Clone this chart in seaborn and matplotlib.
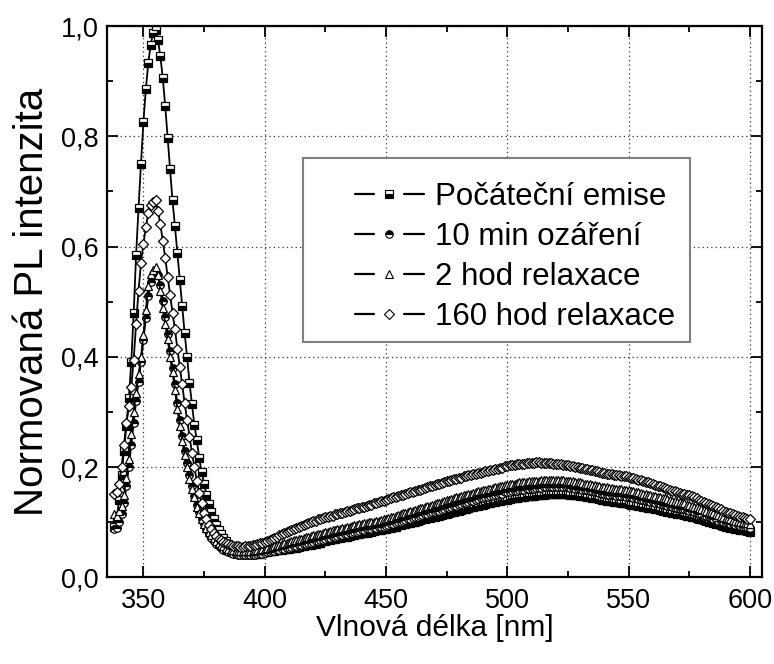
import numpy as np
import pandas as pd
import seaborn as sns
import matplotlib
matplotlib.use("Agg")
import matplotlib.pyplot as plt
from matplotlib.lines import Line2D
from matplotlib.patches import Rectangle
from matplotlib.legend_handler import HandlerBase
from matplotlib.ticker import MultipleLocator

# ---------------- data ----------------
# sampling grid of the spectra: 338 ... 600 nm, 1 nm step
wavelength = np.arange(338, 601)

labels = ["Počáteční emise", "10 min ozáření", "2 hod relaxace", "160 hod relaxace"]

pocatecni = [
    0.092, 0.108, 0.140, 0.185, 0.230, 0.275, 0.325, 0.390, 0.480, 0.585,
    0.670, 0.750, 0.825, 0.885, 0.932, 0.966, 0.988, 0.992, 0.975, 0.945,
    0.905, 0.855, 0.797, 0.740, 0.684, 0.637, 0.589, 0.540, 0.492, 0.443,
    0.400, 0.353, 0.315, 0.277, 0.249, 0.217, 0.191, 0.170, 0.149, 0.133,
    0.118, 0.106, 0.095, 0.086, 0.078, 0.071, 0.065, 0.060, 0.056, 0.052,
    0.049, 0.047, 0.045, 0.044, 0.043, 0.042, 0.042, 0.042, 0.042, 0.043,
    0.043, 0.044, 0.045,
    0.046, 0.047, 0.047, 0.048, 0.049, 0.049, 0.050, 0.051, 0.051, 0.052,
    0.053, 0.054, 0.054, 0.055, 0.056, 0.057, 0.058, 0.058, 0.059, 0.060,
    0.061, 0.062, 0.063, 0.065, 0.066, 0.067, 0.068, 0.069, 0.070, 0.071,
    0.072, 0.073, 0.073, 0.074, 0.075, 0.076, 0.077, 0.078, 0.079, 0.080,
    0.081, 0.081, 0.082, 0.083, 0.084, 0.085, 0.086, 0.086, 0.087, 0.088,
    0.089, 0.090, 0.091, 0.092, 0.094, 0.095, 0.096, 0.097, 0.098, 0.099,
    0.100, 0.101, 0.103, 0.104, 0.105, 0.106, 0.107, 0.108, 0.109, 0.110,
    0.111, 0.112, 0.113, 0.114, 0.115, 0.117, 0.118, 0.119, 0.120, 0.121,
    0.122, 0.123, 0.124, 0.126, 0.127, 0.128, 0.129, 0.130, 0.131, 0.132,
    0.133, 0.134, 0.135, 0.136, 0.137, 0.138, 0.139, 0.140, 0.140, 0.141,
    0.142, 0.143, 0.144, 0.144, 0.145, 0.146, 0.146, 0.147, 0.147, 0.148,
    0.148, 0.149, 0.149, 0.150, 0.150, 0.151, 0.151, 0.152, 0.152, 0.152,
    0.152, 0.152, 0.151, 0.151, 0.151, 0.150, 0.150, 0.149, 0.149, 0.148,
    0.147, 0.147, 0.146, 0.145, 0.144, 0.144, 0.143, 0.142, 0.141, 0.140,
    0.139, 0.138, 0.138, 0.137, 0.136, 0.136, 0.135, 0.134, 0.134, 0.133,
    0.132, 0.131, 0.131, 0.130, 0.129, 0.128, 0.127, 0.126, 0.126, 0.125,
    0.124, 0.123, 0.122, 0.121, 0.120, 0.119, 0.118, 0.117, 0.116, 0.115,
    0.114, 0.114, 0.113, 0.112, 0.112, 0.110, 0.109, 0.108, 0.106, 0.105,
    0.104, 0.102, 0.101, 0.100, 0.098, 0.097, 0.096, 0.094, 0.093, 0.092,
    0.091, 0.090, 0.089, 0.088, 0.087, 0.086, 0.086, 0.085, 0.084, 0.083,
]

ozareni_10min = [
    0.088, 0.090, 0.100, 0.115, 0.135, 0.165, 0.200, 0.240, 0.280, 0.320,
    0.355, 0.390, 0.430, 0.470, 0.510, 0.535, 0.548, 0.552, 0.548, 0.530,
    0.502, 0.472, 0.442, 0.410, 0.380, 0.350, 0.316, 0.285, 0.257, 0.230,
    0.207, 0.185, 0.165, 0.148, 0.132, 0.118, 0.106, 0.096, 0.087, 0.079,
    0.072, 0.066, 0.061, 0.057, 0.053, 0.050, 0.048, 0.046, 0.044, 0.043,
    0.042, 0.041, 0.040, 0.040, 0.040, 0.040, 0.040, 0.041, 0.041, 0.042,
    0.042, 0.043, 0.044,
    0.045, 0.046, 0.047, 0.048, 0.049, 0.050, 0.051, 0.052, 0.053, 0.054,
    0.055, 0.056, 0.057, 0.058, 0.059, 0.060, 0.061, 0.062, 0.063, 0.064,
    0.065, 0.066, 0.067, 0.068, 0.070, 0.071, 0.072, 0.073, 0.074, 0.075,
    0.076, 0.077, 0.078, 0.079, 0.080, 0.081, 0.082, 0.083, 0.084, 0.085,
    0.086, 0.087, 0.088, 0.088, 0.089, 0.090, 0.091, 0.092, 0.092, 0.093,
    0.095, 0.096, 0.097, 0.099, 0.100, 0.101, 0.102, 0.104, 0.105, 0.106,
    0.107, 0.109, 0.110, 0.111, 0.113, 0.114, 0.115, 0.116, 0.118, 0.119,
    0.120, 0.121, 0.122, 0.124, 0.125, 0.126, 0.128, 0.129, 0.130, 0.131,
    0.133, 0.134, 0.135, 0.137, 0.138, 0.139, 0.140, 0.142, 0.143, 0.144,
    0.145, 0.146, 0.147, 0.148, 0.149, 0.150, 0.151, 0.152, 0.154, 0.155,
    0.155, 0.156, 0.157, 0.157, 0.158, 0.159, 0.159, 0.160, 0.160, 0.161,
    0.161, 0.162, 0.162, 0.162, 0.163, 0.163, 0.163, 0.164, 0.164, 0.164,
    0.164, 0.164, 0.163, 0.163, 0.163, 0.162, 0.162, 0.161, 0.161, 0.160,
    0.159, 0.158, 0.158, 0.157, 0.156, 0.155, 0.154, 0.153, 0.152, 0.151,
    0.150, 0.150, 0.149, 0.149, 0.148, 0.148, 0.147, 0.147, 0.146, 0.146,
    0.145, 0.144, 0.143, 0.142, 0.141, 0.140, 0.139, 0.138, 0.137, 0.136,
    0.135, 0.134, 0.133, 0.132, 0.131, 0.130, 0.129, 0.127, 0.126, 0.125,
    0.124, 0.123, 0.123, 0.122, 0.121, 0.120, 0.118, 0.117, 0.115, 0.114,
    0.112, 0.111, 0.109, 0.108, 0.106, 0.105, 0.103, 0.102, 0.100, 0.099,
    0.098, 0.097, 0.096, 0.095, 0.094, 0.093, 0.092, 0.091, 0.091, 0.090,
]

relaxace_2h = [
    0.115, 0.112, 0.120, 0.130, 0.150, 0.180, 0.215, 0.260, 0.300, 0.335,
    0.368, 0.400, 0.440, 0.485, 0.528, 0.550, 0.558, 0.562, 0.548, 0.520,
    0.488, 0.460, 0.432, 0.400, 0.372, 0.340, 0.305, 0.275, 0.248, 0.222,
    0.200, 0.178, 0.160, 0.145, 0.128, 0.116, 0.106, 0.097, 0.089, 0.082,
    0.076, 0.071, 0.066, 0.062, 0.059, 0.056, 0.054, 0.052, 0.050, 0.049,
    0.048, 0.047, 0.047, 0.047, 0.047, 0.047, 0.048, 0.048, 0.049, 0.050,
    0.050, 0.051, 0.052,
    0.053, 0.054, 0.055, 0.057, 0.058, 0.059, 0.060, 0.062, 0.063, 0.064,
    0.065, 0.067, 0.068, 0.069, 0.070, 0.072, 0.073, 0.074, 0.075, 0.076,
    0.077, 0.078, 0.079, 0.080, 0.082, 0.083, 0.084, 0.085, 0.086, 0.087,
    0.088, 0.089, 0.090, 0.091, 0.092, 0.093, 0.094, 0.095, 0.096, 0.097,
    0.098, 0.099, 0.100, 0.100, 0.101, 0.102, 0.103, 0.104, 0.105, 0.106,
    0.108, 0.109, 0.110, 0.112, 0.113, 0.114, 0.116, 0.117, 0.118, 0.120,
    0.121, 0.122, 0.124, 0.125, 0.126, 0.128, 0.129, 0.130, 0.132, 0.133,
    0.134, 0.135, 0.137, 0.138, 0.140, 0.141, 0.142, 0.144, 0.145, 0.146,
    0.147, 0.149, 0.150, 0.151, 0.152, 0.153, 0.155, 0.156, 0.157, 0.158,
    0.159, 0.160, 0.161, 0.162, 0.163, 0.164, 0.165, 0.166, 0.167, 0.168,
    0.169, 0.170, 0.170, 0.171, 0.172, 0.172, 0.173, 0.173, 0.174, 0.174,
    0.175, 0.175, 0.175, 0.176, 0.176, 0.176, 0.176, 0.177, 0.177, 0.176,
    0.176, 0.176, 0.176, 0.175, 0.175, 0.174, 0.174, 0.173, 0.173, 0.172,
    0.171, 0.170, 0.170, 0.169, 0.168, 0.167, 0.166, 0.165, 0.164, 0.163,
    0.163, 0.162, 0.162, 0.161, 0.161, 0.160, 0.160, 0.159, 0.159, 0.158,
    0.157, 0.156, 0.155, 0.154, 0.153, 0.152, 0.151, 0.150, 0.149, 0.148,
    0.147, 0.146, 0.145, 0.144, 0.143, 0.142, 0.140, 0.139, 0.138, 0.137,
    0.136, 0.135, 0.134, 0.132, 0.131, 0.130, 0.128, 0.127, 0.125, 0.124,
    0.122, 0.121, 0.119, 0.118, 0.116, 0.114, 0.113, 0.111, 0.110, 0.108,
    0.107, 0.106, 0.104, 0.103, 0.102, 0.101, 0.100, 0.099, 0.098, 0.096,
]

relaxace_160h = [
    0.152, 0.155, 0.170, 0.200, 0.240, 0.280, 0.310, 0.345, 0.395, 0.460,
    0.520, 0.570, 0.605, 0.635, 0.660, 0.675, 0.680, 0.684, 0.665, 0.640,
    0.610, 0.580, 0.545, 0.512, 0.480, 0.450, 0.415, 0.382, 0.350, 0.316,
    0.286, 0.255, 0.226, 0.200, 0.175, 0.153, 0.134, 0.117, 0.105, 0.095,
    0.087, 0.080, 0.075, 0.070, 0.067, 0.064, 0.062, 0.060, 0.058, 0.057,
    0.056, 0.056, 0.055, 0.055, 0.056, 0.056, 0.057, 0.058, 0.059, 0.060,
    0.062, 0.063, 0.064,
    0.066, 0.068, 0.070, 0.072, 0.074, 0.076, 0.078, 0.080, 0.082, 0.084,
    0.086, 0.088, 0.090, 0.092, 0.093, 0.095, 0.097, 0.099, 0.100, 0.102,
    0.103, 0.105, 0.106, 0.107, 0.109, 0.110, 0.111, 0.112, 0.114, 0.115,
    0.116, 0.117, 0.118, 0.120, 0.121, 0.122, 0.123, 0.125, 0.126, 0.127,
    0.128, 0.130, 0.131, 0.132, 0.134, 0.135, 0.136, 0.138, 0.139, 0.141,
    0.142, 0.143, 0.145, 0.146, 0.147, 0.149, 0.150, 0.151, 0.153, 0.154,
    0.155, 0.157, 0.158, 0.159, 0.161, 0.162, 0.163, 0.165, 0.166, 0.168,
    0.169, 0.170, 0.171, 0.173, 0.174, 0.175, 0.177, 0.178, 0.179, 0.180,
    0.181, 0.183, 0.184, 0.185, 0.186, 0.187, 0.188, 0.189, 0.190, 0.191,
    0.192, 0.193, 0.194, 0.195, 0.196, 0.197, 0.198, 0.199, 0.201, 0.202,
    0.203, 0.203, 0.204, 0.205, 0.205, 0.206, 0.206, 0.207, 0.207, 0.208,
    0.208, 0.209, 0.209, 0.208, 0.208, 0.208, 0.207, 0.207, 0.206, 0.206,
    0.205, 0.205, 0.204, 0.203, 0.203, 0.202, 0.201, 0.200, 0.200, 0.199,
    0.198, 0.197, 0.196, 0.195, 0.194, 0.193, 0.192, 0.191, 0.190, 0.189,
    0.188, 0.187, 0.187, 0.186, 0.185, 0.185, 0.184, 0.183, 0.183, 0.182,
    0.181, 0.180, 0.178, 0.177, 0.176, 0.175, 0.173, 0.172, 0.171, 0.169,
    0.168, 0.166, 0.165, 0.163, 0.162, 0.160, 0.159, 0.157, 0.156, 0.154,
    0.153, 0.152, 0.151, 0.150, 0.149, 0.147, 0.145, 0.143, 0.141, 0.139,
    0.137, 0.135, 0.133, 0.131, 0.129, 0.127, 0.125, 0.123, 0.121, 0.119,
    0.117, 0.116, 0.114, 0.113, 0.111, 0.110, 0.109, 0.108, 0.106, 0.105,
]

xticks = [350, 400, 450, 500, 550, 600]
xtick_labels = ["350", "400", "450", "500", "550", "600"]
yticks = [0.0, 0.2, 0.4, 0.6, 0.8, 1.0]
ytick_labels = ["0,0", "0,2", "0,4", "0,6", "0,8", "1,0"]

series = [pocatecni, ozareni_10min, relaxace_2h, relaxace_160h]
for s in series:
    assert len(s) == len(wavelength), len(s)

# ---------------- styling ----------------
sns.set_style("ticks")
plt.rcParams["font.family"] = ["Liberation Sans", "DejaVu Sans"]
for key in ("text.color", "axes.labelcolor", "xtick.color", "ytick.color",
            "axes.edgecolor"):
    plt.rcParams[key] = "black"

styles = [
    dict(marker="s", markersize=5.4, fillstyle="bottom", markerfacecolor="black",
         markerfacecoloralt="white"),
    dict(marker="o", markersize=5.4, fillstyle="top", markerfacecolor="black",
         markerfacecoloralt="white"),
    dict(marker="^", markersize=5.8, fillstyle="full", markerfacecolor="white"),
    dict(marker="D", markersize=4.6, fillstyle="full", markerfacecolor="white"),
]

fig = plt.figure(figsize=(7.74, 6.64), dpi=100)
ax = fig.add_axes([107 / 774, 1 - 577.3 / 664, 655 / 774, 551.3 / 664])

rows = []
for lab, vals in zip(labels, series):
    rows.append(pd.DataFrame({"wl": wavelength, "val": vals, "serie": lab}))
df = pd.concat(rows, ignore_index=True)

for lab, st in zip(labels, styles):
    sub = df[df["serie"] == lab]
    sns.lineplot(data=sub, x="wl", y="val", ax=ax, color="black", linewidth=1.3,
                 markeredgecolor="black", markeredgewidth=0.9, errorbar=None,
                 legend=False, zorder=2, **st)

ax.set_xlim(335, 605)
ax.set_ylim(0, 1.0)
ax.set_xticks(xticks, labels=xtick_labels)
ax.set_yticks(yticks, labels=ytick_labels)
ax.xaxis.set_minor_locator(MultipleLocator(25))
ax.yaxis.set_minor_locator(MultipleLocator(0.1))

ax.tick_params(which="both", direction="in", top=True, right=True,
               bottom=True, left=True, color="black", width=1.3)
ax.tick_params(which="major", length=7.7, labelsize=19.5, labelcolor="black")
ax.tick_params(which="minor", length=4.0)
ax.tick_params(axis="x", which="major", pad=8)
ax.tick_params(axis="y", which="major", pad=6)

for sp in ax.spines.values():
    sp.set_visible(True)
    sp.set_linewidth(1.6)
    sp.set_color("black")

ax.set_axisbelow(True)
ax.grid(True, which="major", linestyle=(0, (1, 2.5)), linewidth=0.9, color="#333333")

ax.set_xlabel("Vlnová délka [nm]", fontsize=21.5, labelpad=0, color="black")
ax.set_ylabel("Normovaná PL intenzita", fontsize=29, labelpad=7, color="black")

# legend frame (hides the grid behind it)
frame = Rectangle((0.299, 0.426), 0.591, 0.3346, transform=ax.transAxes,
                  facecolor="white", edgecolor="#7f7f7f", linewidth=1.5, zorder=3)
ax.add_patch(frame)


class GapLineHandler(HandlerBase):
    def create_artists(self, legend, orig, xdescent, ydescent, width, height,
                       fontsize, trans):
        y = height / 2.0 - ydescent
        x0 = -xdescent
        seg = width * 0.28
        l1 = Line2D([x0, x0 + seg], [y, y], color="black", lw=1.6)
        l2 = Line2D([x0 + width - seg, x0 + width], [y, y], color="black", lw=1.6)
        m = Line2D([x0 + width / 2.0], [y], linestyle="none",
                   marker=orig.get_marker(), markersize=orig.get_markersize(),
                   fillstyle=orig.get_fillstyle(),
                   markerfacecolor=orig.get_markerfacecolor(),
                   markerfacecoloralt=orig.get_markerfacecoloralt(),
                   markeredgecolor="black", markeredgewidth=0.8)
        for a in (l1, l2, m):
            a.set_transform(trans)
        return [l1, l2, m]


handles = list(ax.lines[:4])
leg = ax.legend(handles=handles, labels=labels,
                handler_map={Line2D: GapLineHandler()},
                loc="upper left", bbox_to_anchor=(0.3786, 0.7166),
                frameon=False, borderpad=0, borderaxespad=0,
                handlelength=2.2, handletextpad=0.37, labelspacing=0.32,
                fontsize=22.5)
for t in leg.get_texts():
    t.set_color("black")
leg.set_zorder(5)

fig.savefig("out.png", dpi=100)
